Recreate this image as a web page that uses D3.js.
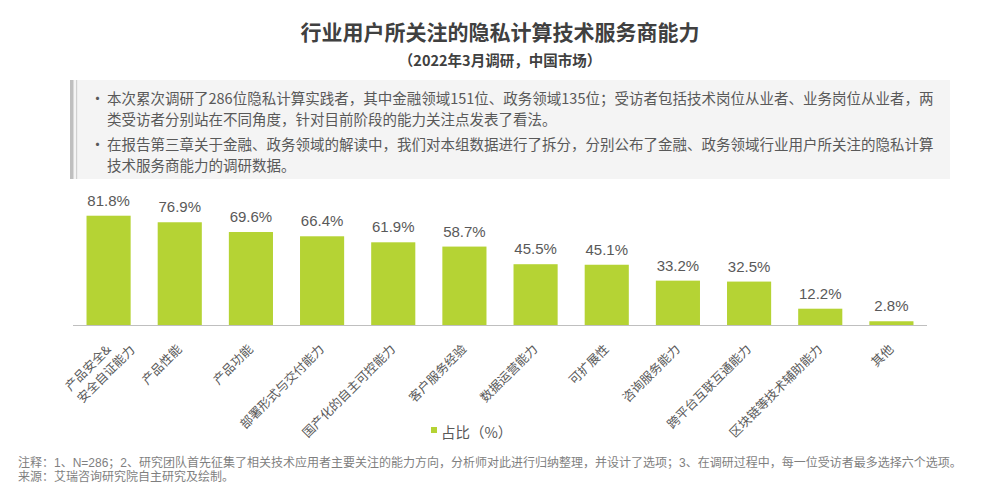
<!DOCTYPE html>
<html>
<head>
<meta charset="utf-8">
<script src="https://cdn.jsdelivr.net/npm/d3@7/dist/d3.min.js"></script>
<style>
  html, body { margin: 0; padding: 0; background: #ffffff; }
  svg { display: block; }
</style>
</head>
<body>
<svg id="chart" width="1000" height="487"></svg>
<script>
const title = "行业用户所关注的隐私计算技术服务商能力";
const subtitle = "（2022年3月调研，中国市场）";
const infoLines = [
  { bullet: true,  text: "本次累次调研了286位隐私计算实践者，其中金融领域151位、政务领域135位；受访者包括技术岗位从业者、业务岗位从业者，两" },
  { bullet: false, text: "类受访者分别站在不同角度，针对目前阶段的能力关注点发表了看法。" },
  { bullet: true,  text: "在报告第三章关于金融、政务领域的解读中，我们对本组数据进行了拆分，分别公布了金融、政务领域行业用户所关注的隐私计算" },
  { bullet: false, text: "技术服务商能力的调研数据。" }
];
const categories = [
  "产品安全&\n安全自证能力", "产品性能", "产品功能", "部署形式与交付能力",
  "国产化的自主可控能力", "客户服务经验", "数据运营能力", "可扩展性",
  "咨询服务能力", "跨平台互联互通能力", "区块链等技术辅助能力", "其他"
];
const values = [81.8, 76.9, 69.6, 66.4, 61.9, 58.7, 45.5, 45.1, 33.2, 32.5, 12.2, 2.8];
const seriesName = "占比（%）";
const footnotes = [
  "注释：1、N=286；2、研究团队首先征集了相关技术应用者主要关注的能力方向，分析师对此进行归纳整理，并设计了选项；3、在调研过程中，每一位受访者最多选择六个选项。",
  "来源：艾瑞咨询研究院自主研究及绘制。"
];

const CJK = "'Noto Sans CJK SC', 'Noto Sans', sans-serif";
const MIX = "'Liberation Sans', 'Noto Sans CJK SC', sans-serif";
const svg = d3.select("#chart");
const textGray = "#595959";
const barColor = "#b5d334";

// Title
svg.append("text").attr("x", 500).attr("y", 40).attr("text-anchor", "middle")
  .attr("font-family", CJK).attr("font-weight", "bold").attr("font-size", 21)
  .attr("fill", "#404040").text(title);
svg.append("text").attr("x", 500).attr("y", 66).attr("text-anchor", "middle")
  .attr("font-family", CJK).attr("font-weight", "bold").attr("font-size", 14.5)
  .attr("fill", "#404040").text(subtitle);

// Info box
const box = svg.append("g");
box.append("rect").attr("x", 70).attr("y", 80).attr("width", 880).attr("height", 99).attr("fill", "#f4f4f4");
box.append("rect").attr("x", 70).attr("y", 80).attr("width", 3.5).attr("height", 99).attr("fill", "#bfbfbf");
box.append("rect").attr("x", 76).attr("y", 80).attr("width", 1.2).attr("height", 99).attr("fill", "#d0d0d0");
const infoY = [104, 125, 150, 171];
infoLines.forEach((l, i) => {
  if (l.bullet) {
    box.append("text").attr("x", 90).attr("y", infoY[i]).attr("font-family", CJK)
      .attr("font-size", 15).attr("fill", textGray).text("•");
  }
  box.append("text").attr("x", 107).attr("y", infoY[i]).attr("font-family", CJK)
    .attr("font-size", 14.5).attr("fill", textGray).text(l.text);
});

// Chart
const baseline = 325;
const x = d3.scaleBand().domain(categories).range([73, 927]).paddingInner(0.38).paddingOuter(0.19);
const y = d3.scaleLinear().domain([0, 100]).range([baseline, baseline - 133.6]);

const g = svg.append("g");
g.selectAll("rect.bar").data(values).enter().append("rect")
  .attr("class", "bar")
  .attr("x", (d, i) => x(categories[i]))
  .attr("width", x.bandwidth())
  .attr("y", d => y(d))
  .attr("height", d => y(0) - y(d))
  .attr("fill", barColor);

g.append("line").attr("x1", 73).attr("x2", 927).attr("y1", baseline + 0.5).attr("y2", baseline + 0.5)
  .attr("stroke", "#bfbfbf").attr("stroke-width", 1);

g.selectAll("text.val").data(values).enter().append("text")
  .attr("class", "val")
  .attr("x", (d, i) => x(categories[i]) + x.bandwidth() / 2)
  .attr("y", d => y(d) - 10)
  .attr("text-anchor", "middle")
  .attr("font-family", MIX).attr("font-size", 15).attr("fill", textGray)
  .text(d => d.toFixed(1) + "%");

// Rotated category labels
categories.forEach((c, i) => {
  const cx = x(c) + x.bandwidth() / 2;
  const lines = c.split("\n");
  const lg = g.append("g").attr("transform", `translate(${cx - 1},346) rotate(-45)`);
  if (lines.length === 1) {
    lg.append("text").attr("x", 0).attr("y", 0).attr("text-anchor", "end")
      .attr("dominant-baseline", "central")
      .attr("font-family", CJK).attr("font-size", 12.5).attr("fill", textGray).text(c);
  } else {
    const t = lg.append("text").attr("font-family", CJK).attr("font-size", 12.5)
      .attr("fill", textGray).attr("dominant-baseline", "central").attr("text-anchor", "start");
    const probe = lg.append("text").attr("font-family", CJK).attr("font-size", 12.5).text(lines[0]);
    const w0 = probe.node().getComputedTextLength();
    probe.remove();
    lines.forEach((ln, k) => {
      t.append("tspan").attr("x", -w0).attr("y", k * 17).text(ln);
    });
  }
});

// Legend
svg.append("rect").attr("x", 431).attr("y", 427).attr("width", 6).attr("height", 6).attr("fill", barColor);
svg.append("text").attr("x", 441).attr("y", 431).attr("dominant-baseline", "central")
  .attr("font-family", CJK).attr("font-size", 14.5).attr("fill", textGray).text(seriesName);

// Footnotes
[467, 481].forEach((yy, i) => {
  svg.append("text").attr("x", 18).attr("y", yy).attr("font-family", MIX)
    .attr("font-size", 12).attr("fill", "#7f7f7f").text(footnotes[i]);
});
</script>
</body>
</html>
